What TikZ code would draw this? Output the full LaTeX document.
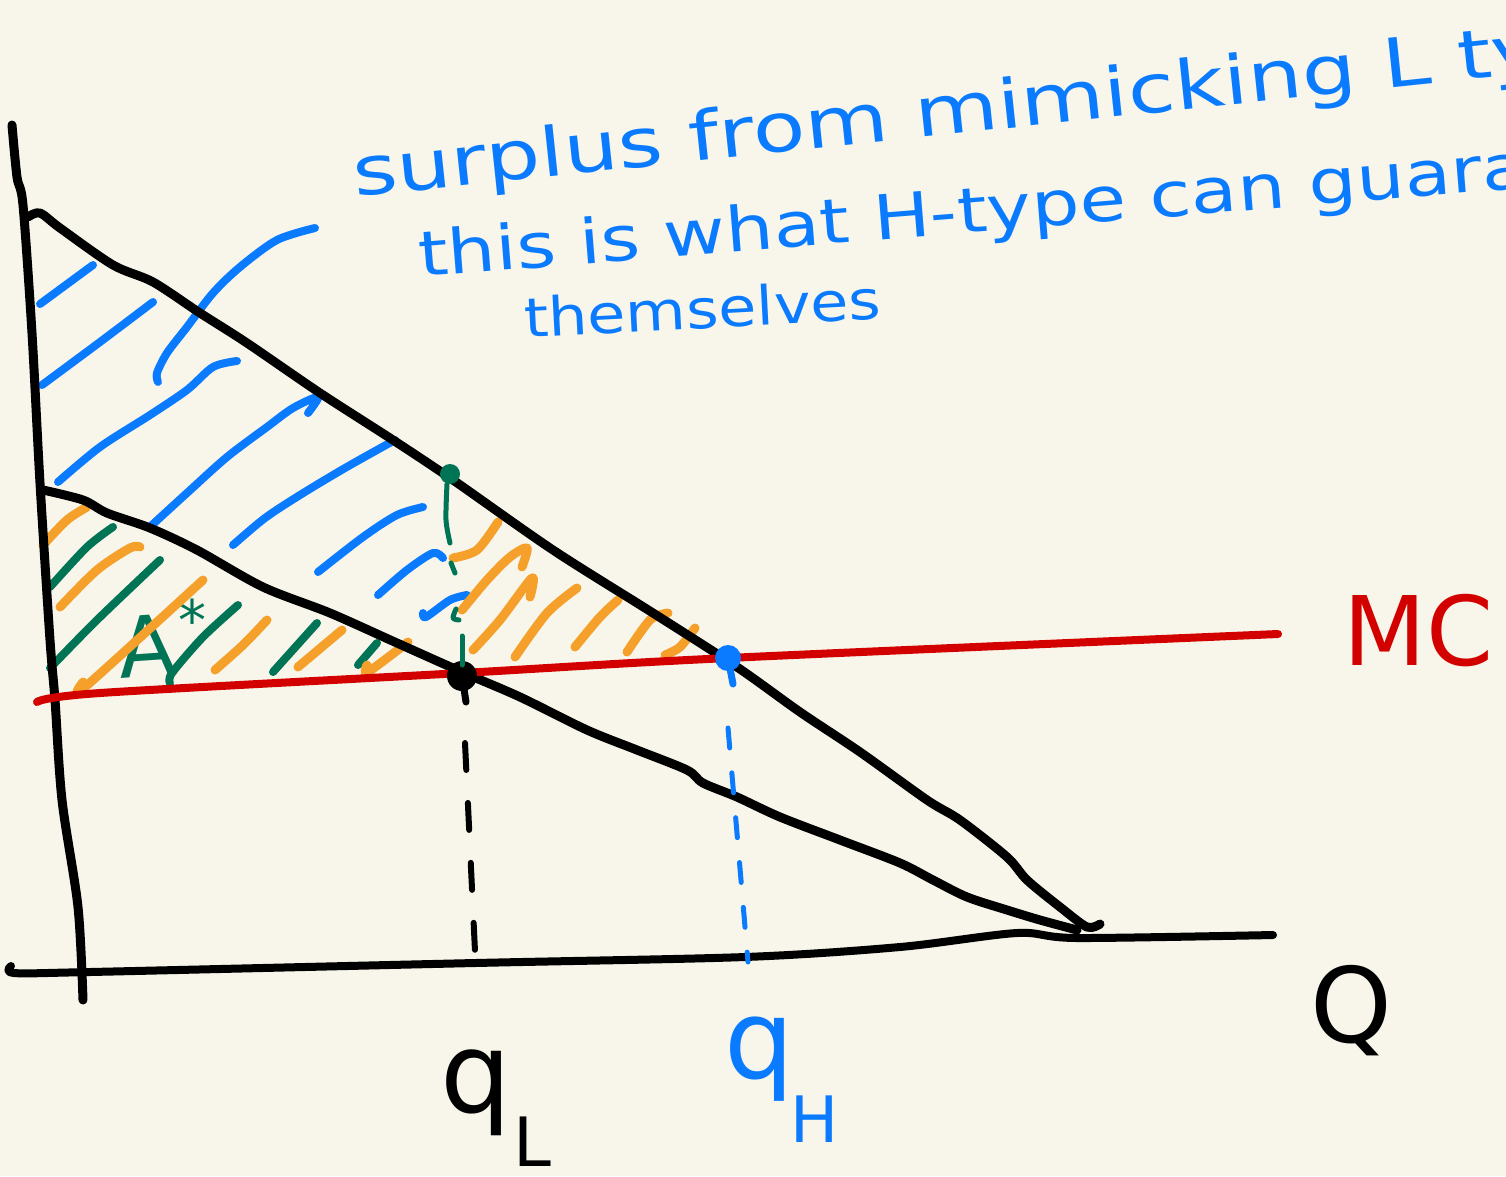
\documentclass[tikz,border=0pt]{standalone}
\usepackage{fontspec}
\setmainfont{DejaVu Sans}
\newfontfamily\noteA[FakeStretch=1.26]{DejaVu Sans}
\newfontfamily\noteB[FakeStretch=1.22]{DejaVu Sans}
\newfontfamily\noteC[FakeStretch=1.15]{DejaVu Sans}
\definecolor{paper}{HTML}{F8F6EA}
\definecolor{hblue}{HTML}{0A7BFF}
\definecolor{horange}{HTML}{F4A02A}
\definecolor{hgreen}{HTML}{007455}
\definecolor{hred}{HTML}{D30000}
\begin{document}
\begin{tikzpicture}[x=1pt,y=-1pt, line cap=round, line join=round,
  axisline/.style={line width=9pt, black},
  demand/.style={line width=9pt, black},
  mcline/.style={line width=8pt, hred},
  bhatch/.style={line width=8pt, hblue},
  ohatch/.style={line width=9pt, horange},
  ghatch/.style={line width=8pt, hgreen},
  bdash/.style={line width=6pt, black, dash pattern=on 27pt off 33pt},
  hdash/.style={line width=5pt, hblue, dash pattern=on 20pt off 25pt},
  gline/.style={line width=5pt, hgreen},
  note/.style={text=hblue, anchor=base west, inner sep=0pt},
  lab/.style={anchor=base west, inner sep=0pt},
  dotnode/.style={circle, inner sep=0pt},
  sm/.style={smooth, tension=0.5}
]
\useasboundingbox (0,0) rectangle (1506,1176);
\fill[paper] (0,0) rectangle (1506,1176);
\clip (0,0) rectangle (1506,1176);

% ---------------- hatching: blue ----------------
\draw[bhatch] (40,304) -- (93,265);
\draw[bhatch] plot[sm] coordinates {(42,385) (100,342) (153,302)};
\draw[bhatch] plot[sm] coordinates {(58,482) (100,447) (150,415) (187,390) (213,367) (237,361)};
\draw[bhatch] plot[sm] coordinates {(152,525) (187,493) (227,457) (267,427) (293,408) (318,397) (308,413)};
\draw[bhatch] plot[sm] coordinates {(233,545) (265,518) (300,495) (345,468) (395,440)};
\draw[bhatch] plot[sm] coordinates {(318,572) (363,537) (397,515) (423,507)};
\draw[bhatch] plot[sm] coordinates {(378,595) (407,570) (433,553) (443,558)};
\draw[bhatch] plot[sm] coordinates {(423,613) (426,617) (450,600) (467,595)};
% pointer from the note
\draw[bhatch] plot[sm] coordinates {(158,382) (157,373) (167,353) (187,327) (213,293) (240,267) (277,240) (315,228)};

% ---------------- hatching: green ----------------
\draw[ghatch] plot[sm] coordinates {(50,587) (87,547) (113,527)};
\draw[ghatch] plot[sm] coordinates {(50,668) (97,620) (160,560)};
\draw[ghatch] plot[sm] coordinates {(170,683) (172,673) (203,637) (238,605)};
\draw[ghatch] (273,672) -- (317,623);
\draw[ghatch] (358,665) -- (377,643);
\node[lab, text=hgreen, font=\fontsize{84}{90}\selectfont, rotate=4] (alab) at (120,678) {A};
\node[lab, text=hgreen, font=\fontsize{56}{64}\selectfont] (astar) at (178,640) {*};

% ---------------- hatching: orange ----------------
\draw[ohatch] plot[sm] coordinates {(43,545) (67,520) (87,507)};
\draw[ohatch] plot[sm] coordinates {(60,607) (97,570) (130,548) (140,547)};
\draw[ohatch] plot[sm] coordinates {(83,682) (85,687) (203,580)};
\draw[ohatch] plot[sm] coordinates {(215,670) (243,645) (267,620)};
\draw[ohatch] (298,667) -- (342,630);
\draw[ohatch] plot[sm] coordinates {(367,665) (368,672) (408,642)};
\fill[horange] (48,612) circle (3pt);
\draw[ohatch] plot[sm] coordinates {(453,558) (477,550) (498,522)};
\draw[ohatch] plot[sm] coordinates {(462,610) (487,580) (510,557) (527,548) (522,567)};
\draw[ohatch] plot[sm] coordinates {(473,650) (500,620) (532,578) (530,597)};
\draw[ohatch] plot[sm] coordinates {(515,657) (547,613) (577,588)};
\draw[ohatch] plot[sm] coordinates {(575,647) (600,617) (618,600)};
\draw[ohatch] plot[sm] coordinates {(627,652) (650,620) (668,613)};
\draw[ohatch] plot[sm] coordinates {(665,655) (680,647) (695,628)};

% ---------------- axes ----------------
\draw[axisline] plot[sm] coordinates {(12,125) (17,177) (23,205) (32,333) (40,483) (50,640) (55,700) (62,800) (78,907) (83,1000)};
\draw[axisline, line width=8pt] plot[sm] coordinates {(11,966) (14,973) (90,972) (475,963) (745,957) (900,947) (1017,933) (1077,938) (1273,935)};

% ---------------- demand curves ----------------
\draw[demand] plot[sm] coordinates {(28,217) (40,213) (60,228) (113,265) (153,282) (200,313) (247,343) (320,393) (393,440) (453,480) (553,550) (653,613) (737,667) (800,712) (860,752) (927,800) (960,820) (1007,857) (1027,880) (1060,907) (1087,927) (1100,924)};
\draw[demand] plot[sm] coordinates {(43,490) (83,500) (107,513) (150,528) (197,550) (263,587) (330,613) (397,643) (462,672) (520,697) (587,730) (637,750) (687,770) (703,783) (737,797) (780,817) (840,840) (900,863) (933,880) (967,897) (1007,910) (1040,920) (1077,930)};

% ---------------- MC ----------------
\draw[mcline] plot[sm] coordinates {(37,702) (100,693) (462,673) (728,658) (1278,634)};

% ---------------- points and drop lines ----------------
\node[dotnode, fill=hgreen, minimum size=20pt] (gdot) at (450,474) {};
\node[dotnode, fill=black, minimum size=30pt] (qLdot) at (462,676) {};
\node[dotnode, fill=hblue, minimum size=26pt] (qHdot) at (728,658) {};
\coordinate (qLtop) at (465,743);
\coordinate (qLbase) at (476,972);
\coordinate (qHtop) at (728,728);
\coordinate (qHbase) at (748,962);
\draw[line width=7pt, black] (qLdot) -- (466,702);
\draw[line width=7pt, hblue] (qHdot) -- (733,684);
\draw[bdash] (qLtop) -- (qLbase);
\draw[hdash] (qHtop) -- (qHbase);
\draw[gline] plot[sm] coordinates {(447,484) (446,520) (450,543)};
\draw[gline] (451,563) -- (455,573);
\draw[gline] plot[sm] coordinates {(456,609) (453,618) (459,620)};
\draw[gline] (462,636) -- (462,665);

% ---------------- note ----------------
\node[note, rotate=6, font=\noteA\fontsize{68}{80}\selectfont] (line1) at (355,197) {surplus from mimicking L type};
\node[note, rotate=4.6, font=\noteB\fontsize{62}{72}\selectfont] (line2) at (420,277) {this is what H-type can guarantee};
\node[note, rotate=3, font=\noteC\fontsize{54}{64}\selectfont] (line3) at (525,338) {themselves};

% ---------------- labels ----------------
\node[lab, font=\fontsize{112}{120}\selectfont] (qL) at (440,1112) {q};
\node[lab, font=\fontsize{68}{76}\selectfont] (qLsub) at (513,1166) {L};
\node[lab, text=hblue, font=\fontsize{110}{120}\selectfont] (qH) at (724,1078) {q};
\node[lab, text=hblue, font=\fontsize{64}{70}\selectfont] (qHsub) at (790,1142) {H};
\node[lab, font=\fontsize{104}{110}\selectfont] (Qlab) at (1310,1042) {Q};
\node[lab, text=hred, font=\fontsize{96}{110}\selectfont] (MClab) at (1343,665) {MC};
\end{tikzpicture}
\end{document}
